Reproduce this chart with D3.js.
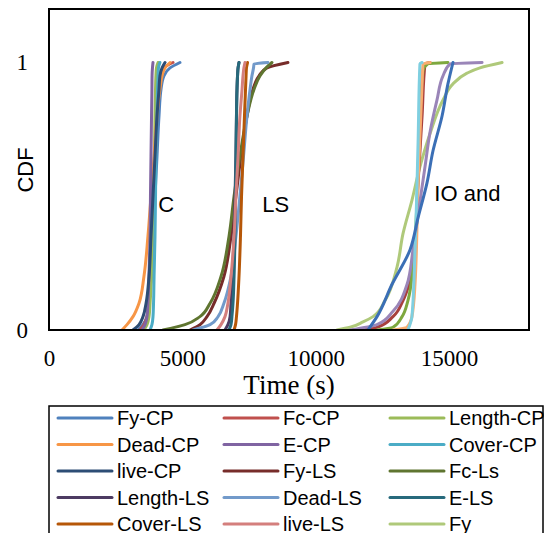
<!DOCTYPE html>
<html><head><meta charset="utf-8">
<script src="https://cdn.jsdelivr.net/npm/d3@7"></script>
<style>body{margin:0;background:#fff}svg{display:block}</style>
</head><body>
<svg id="c" width="544" height="533"></svg>
<script>
// ---- data: each series is a list of [time (s), CDF] points ----
const seriesNames = ["Fy-CP","Fc-CP","Length-CP","Dead-CP","E-CP","Cover-CP","live-CP",
  "Fy-LS","Fc-Ls","Length-LS","Dead-LS","E-LS","Cover-LS","live-LS",
  "Fy","Fc","Length","Dead","E","Cover","live"];
const seriesColors = ["#4f81bd","#c0504d","#9bbb59","#f79646","#8064a2","#4bacc6","#2c4d75",
  "#772c2a","#5f7530","#4d3b62","#729aca","#276a7c","#b65708","#d47f7d",
  "#afc97a","#a8403d","#7ea83e","#f9ad70","#9a85b8","#7fcfe0","#3b6fb6"];
const levels = [0,0.02,0.05,0.1,0.2,0.35,0.5,0.65,0.8,0.9,0.95,0.98,1];
const fyCP     = [3340,3525,3675,3750,3825,3900,3975,4050,4125,4200,4310,4540,4910];
const fcCP     = [3410,3560,3675,3750,3825,3880,3940,3995,4050,4125,4200,4310,4650];
const lengthCP = [3560,3675,3750,3790,3845,3880,3920,3955,3975,3995,4010,4030,4090];
const deadCP   = [2740,2925,3150,3375,3560,3710,3825,3940,4050,4160,4240,4350,4540];
const eCP      = [3490,3600,3675,3710,3750,3790,3805,3825,3845,3860,3865,3880,3900];
const coverCP  = [3790,3860,3900,3920,3940,3975,3995,4010,4050,4070,4090,4105,4160];
const liveCP   = [3150,3375,3525,3640,3750,3825,3900,3975,4050,4125,4160,4240,4350];
const fyLS     = [5290,5660,5925,6190,6560,6825,7010,7200,7425,7650,7875,8175,8960];
const fcLS     = [4275,5100,5660,6040,6450,6750,6940,7160,7425,7690,7910,8140,8360];
const lengthLS = [6600,6710,6790,6825,6880,6940,6975,7010,7030,7050,7070,7090,7125];
const liveLS   = [6300,6450,6600,6710,6825,6940,7010,7090,7160,7240,7275,7310,7350];
const eLS      = [6750,6825,6860,6900,6940,6975,6995,7010,7030,7050,7070,7090,7125];
const coverLS  = [6940,6995,7030,7070,7125,7180,7220,7275,7330,7370,7390,7405,7445];
const deadLS   = [[5400,0],[6040,0.02],[6340,0.05],[6560,0.1],[6825,0.2],[7010,0.35],[7160,0.5],
  [7295,0.65],[7425,0.8],[7540,0.9],[7610,0.95],[7670,0.98],[7690,0.995],[8210,1]];
const fyIO     = [[10800,0],[11290,0.01],[11775,0.03],[12150,0.05],[12600,0.11],[13050,0.235],
  [13275,0.36],[13610,0.485],[13910,0.61],[14290,0.735],[14775,0.86],[15150,0.92],[15675,0.96],
  [16160,0.98],[16990,1]];
const fcIO     = [[11400,0],[12300,0.01],[12900,0.05],[13275,0.11],[13500,0.17],[13725,0.3],
  [13840,0.55],[13990,0.8],[14100,0.995],[14290,1]];
const lengthIO = [[12300,0],[12900,0.01],[13240,0.05],[13460,0.11],[13650,0.24],[13800,0.48],
  [13910,0.8],[14025,0.97],[14210,0.995],[14960,1]];
const deadIO   = [[12900,0],[13425,0.01],[13610,0.05],[13725,0.17],[13840,0.55],[13990,0.92],
  [14025,0.995],[14290,1]];
const eIO      = [[11290,0],[12300,0.02],[12900,0.07],[13425,0.17],[13650,0.3],[13910,0.48],
  [14100,0.61],[14290,0.74],[14550,0.86],[14775,0.95],[15040,0.995],[16240,1]];
const coverIO  = [[13460,0],[13610,0.05],[13725,0.3],[13840,0.7],[13910,0.995],[13990,1]];
const liveIO   = [[11960,0],[12300,0.05],[12860,0.17],[13540,0.3],[13840,0.42],[14175,0.55],
  [14400,0.67],[14740,0.8],[14960,0.92],[15150,1]];
const xTicks = [0,5000,10000,15000];
const yTicks = [0,1];
const groupLabels = [["C",4100,0.47],["LS",8000,0.47],["IO and",14450,0.51]];
const legendVisibleCount = 15; // the rest of the legend lies below the picture edge

const withLevels = arr => arr.map((t,i)=>[t,levels[i]]);
const seriesData = [withLevels(fyCP),withLevels(fcCP),withLevels(lengthCP),withLevels(deadCP),
  withLevels(eCP),withLevels(coverCP),withLevels(liveCP),withLevels(fyLS),withLevels(fcLS),
  withLevels(lengthLS),deadLS,withLevels(eLS),withLevels(coverLS),withLevels(liveLS),
  fyIO,fcIO,lengthIO,deadIO,eIO,coverIO,liveIO];

// ---- drawing ----
const svg = d3.select("#c");
svg.append("rect").attr("width",544).attr("height",533).attr("fill","#fff");
const L=49,R=529,T=9,B=330;
const x = d3.scaleLinear().domain([0,18000]).range([L,R]);
const y = d3.scaleLinear().domain([0,1.2]).range([B,T]);

svg.append("clipPath").attr("id","pc").append("rect")
  .attr("x",L).attr("y",T).attr("width",R-L).attr("height",B-T);

const line = d3.line().x(d=>x(d[0])).y(d=>y(d[1])).curve(d3.curveMonotoneY);
const g = svg.append("g").attr("clip-path","url(#pc)");
seriesData.forEach((s,i)=>{
  g.append("path").attr("d",line(s)).attr("fill","none")
   .attr("stroke",seriesColors[i]).attr("stroke-width",3)
   .attr("stroke-linejoin","round").attr("stroke-linecap","round");
});

// frame
svg.append("rect").attr("x",L).attr("y",T).attr("width",R-L).attr("height",B-T)
  .attr("fill","none").attr("stroke","#000").attr("stroke-width",2);

// axes
const xa = svg.append("g").attr("transform",`translate(0,${B})`)
  .call(d3.axisBottom(x).tickValues(xTicks).tickSize(0).tickPadding(20).tickFormat(d3.format("d")));
xa.select(".domain").remove();
xa.selectAll("text").attr("font-family","'Liberation Serif','Times New Roman',serif")
  .attr("font-size",23).attr("fill","#000");
const ya = svg.append("g").attr("transform",`translate(${L},0)`)
  .call(d3.axisLeft(y).tickValues(yTicks).tickSize(0).tickPadding(21).tickFormat(d3.format("d")));
ya.select(".domain").remove();
ya.selectAll("text").attr("font-family","'Liberation Serif','Times New Roman',serif")
  .attr("font-size",23).attr("fill","#000");

svg.append("text").attr("x",289).attr("y",394).attr("text-anchor","middle")
  .attr("font-family","'Liberation Serif','Times New Roman',serif").attr("font-size",27)
  .text("Time (s)");
svg.append("text").attr("transform","translate(33,170) rotate(-90)").attr("text-anchor","middle")
  .attr("font-family","'Liberation Sans',Arial,sans-serif").attr("font-size",22)
  .text("CDF");

groupLabels.forEach(([t,xv,yv])=>{
  svg.append("text").attr("x",x(xv)).attr("y",y(yv)).attr("dy","0.35em")
    .attr("font-family","'Liberation Sans',Arial,sans-serif").attr("font-size",22)
    .attr("text-anchor","start").text(t);
});

// legend
const lg = svg.append("g");
lg.append("rect").attr("x",49).attr("y",406).attr("width",494).attr("height",190)
  .attr("fill","#fff").attr("stroke","#000").attr("stroke-width",1.5);
const colX = [58,224,390];
seriesNames.slice(0,legendVisibleCount).forEach((n,i)=>{
  const c=i%3, r=Math.floor(i/3);
  const yy = 418 + r*26.5;
  lg.append("line").attr("x1",colX[c]).attr("x2",colX[c]+54).attr("y1",yy).attr("y2",yy)
    .attr("stroke",seriesColors[i]).attr("stroke-width",3).attr("stroke-linecap","round");
  lg.append("text").attr("x",colX[c]+59).attr("y",yy).attr("dy","0.36em")
    .attr("font-family","'Liberation Sans',Arial,sans-serif").attr("font-size",20).text(n);
});
</script>
</body></html>
